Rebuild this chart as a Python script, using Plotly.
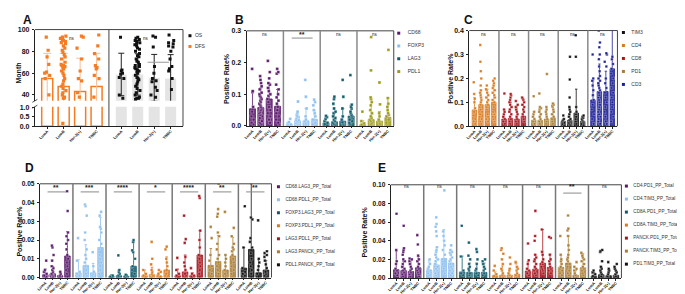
import plotly.graph_objects as go

FIG_W, FIG_H = 685, 294
FONT = "Liberation Sans"
CATS = ["LumA", "LumB", "Her-2(+)", "TNBC"]

PURPLE, LBLUE, TEAL, OLIVE = "#5A1A6C", "#8DC0F0", "#0F5B6B", "#9E9B1C"
ORANGE, RED, TAN, BLACK, NAVY = "#D97A1E", "#A8141B", "#AB7C33", "#111111", "#1D1F96"
A_ORANGE, A_ORANGE_LIGHT, A_GRAY = "#F57C22", "#F8BE93", "#E4E4E4"

# ---------------- Panel A (Month) ----------------
A_DFS_MEAN = [55.2, 47.7, 43.2, 47.7]
A_DFS_ERR = [23.0, 30.5, 30.5, 30.5]
A_DFS_PTS = [
    [93, 81, 75, 68, 61, 60, 58, 55, 40],
    [94, 93, 92, 91, 90, 89, 88, 87, 85, 83, 81, 79, 77, 75, 73, 70, 68, 67, 67, 66,
     65, 64, 62, 60, 58, 55, 53, 50, 48, 46, 44, 42, 40, 38, 37, 37, 0.15],
    [94, 93, 83, 73, 62, 55, 53, 42, 38],
    [95, 85, 78, 73, 67, 65, 64, 58, 55, 38],
]
A_OS_MEAN = [58.8, 58.8, 55.7, 55.0]
A_OS_ERR = [19.5, 19.0, 21.5, 22.0]
A_OS_PTS = [
    [93, 63, 62, 60, 59, 56, 55, 40, 37],
    [93, 92, 91, 90, 89, 88, 87, 86, 85, 83, 82, 80, 78, 76, 75, 73, 71, 70, 68, 67, 66,
     65, 64, 63, 62, 61, 60, 58, 56, 55, 54, 52, 50, 48, 46, 44, 42, 40, 38, 37, 37, 36],
    [94, 93, 84, 66, 60, 55, 53, 52, 47, 44, 40, 38],
    [95, 90, 88, 87, 85, 84, 80, 73, 66, 64, 62, 55, 45],
]
A_GROUPS = ["DFS", "OS"]
A_SIG = ["ns", "ns"]
A_BRACKET_VALUE = 70

# ---------------- Panel B ----------------
B_NAMES = ["CD68", "FOXP3", "LAG3", "PDL1"]
B_COLORS = [PURPLE, LBLUE, TEAL, OLIVE]
B_MEAN = [[0.054, 0.058, 0.085, 0.062],
          [0.006, 0.016, 0.016, 0.021],
          [0.010, 0.013, 0.015, 0.031],
          [0.004, 0.020, 0.015, 0.027]]
B_ERR = [[0.054, 0.062, 0.050, 0.053],
         [0.006, 0.026, 0.039, 0.027],
         [0.015, 0.027, 0.040, 0.034],
         [0.012, 0.065, 0.030, 0.061]]
B_PTS = [
    [[0.18, 0.11, 0.107, 0.06, 0.045, 0.03, 0.02, 0.01, 0.005],
     [0.157, 0.145, 0.135, 0.125, 0.115, 0.105, 0.1, 0.095, 0.09, 0.085, 0.08, 0.075, 0.07, 0.065,
      0.06, 0.055, 0.05, 0.045, 0.04, 0.035, 0.03, 0.025, 0.02, 0.015, 0.01, 0.005, 0.003],
     [0.205, 0.17, 0.15, 0.135, 0.13, 0.12, 0.11, 0.1, 0.095, 0.085, 0.075, 0.06, 0.05, 0.04, 0.03, 0.02, 0.01],
     [0.18, 0.17, 0.165, 0.13, 0.115, 0.1, 0.09, 0.08, 0.07, 0.06, 0.05, 0.04, 0.03, 0.02, 0.01, 0.005]],
    [[0.022, 0.012, 0.008, 0.005, 0.003, 0.001],
     [0.077, 0.045, 0.04, 0.035, 0.03, 0.028, 0.025, 0.02, 0.018, 0.015, 0.012, 0.01, 0.008, 0.005, 0.003],
     [0.145, 0.092, 0.055, 0.03, 0.02, 0.015, 0.01, 0.005],
     [0.083, 0.075, 0.065, 0.05, 0.04, 0.03, 0.02, 0.01, 0.005]],
    [[0.032, 0.028, 0.022, 0.015, 0.01, 0.006, 0.003],
     [0.092, 0.085, 0.07, 0.055, 0.045, 0.04, 0.03, 0.025, 0.02, 0.015, 0.01, 0.006, 0.003],
     [0.145, 0.092, 0.055, 0.03, 0.02, 0.012, 0.008, 0.004],
     [0.16, 0.067, 0.06, 0.055, 0.045, 0.04, 0.035, 0.03, 0.02, 0.015, 0.01, 0.005]],
    [[0.045, 0.015, 0.008, 0.004, 0.002],
     [0.28, 0.175, 0.09, 0.085, 0.075, 0.065, 0.05, 0.04, 0.03, 0.025, 0.02, 0.015, 0.01, 0.005, 0.003],
     [0.137, 0.068, 0.04, 0.03, 0.02, 0.015, 0.01, 0.005],
     [0.24, 0.088, 0.07, 0.06, 0.05, 0.04, 0.035, 0.03, 0.02, 0.01, 0.005]],
]
B_SIG = ["ns", "**", "ns", "ns"]
B_BRACKET = [False, True, False, False]

# ---------------- Panel C ----------------
C_NAMES = ["CD4", "CD8", "PD1", "TIM3", "CD3"]
C_COLORS = [ORANGE, RED, TAN, BLACK, NAVY]
C_MEAN = [[0.068, 0.090, 0.090, 0.100],
          [0.030, 0.032, 0.030, 0.042],
          [0.025, 0.025, 0.030, 0.035],
          [0.020, 0.025, 0.055, 0.020],
          [0.110, 0.145, 0.145, 0.240]]
C_ERR = [[0.052, 0.060, 0.065, 0.070],
         [0.040, 0.068, 0.055, 0.068],
         [0.035, 0.050, 0.050, 0.050],
         [0.010, 0.055, 0.100, 0.020],
         [0.080, 0.115, 0.085, 0.200]]
C_PTS = [
    [[0.184, 0.135, 0.115, 0.1, 0.075, 0.06, 0.045, 0.03, 0.02, 0.01],
     [0.34, 0.27, 0.23, 0.2, 0.17, 0.15, 0.14, 0.13, 0.12, 0.11, 0.1, 0.09, 0.08, 0.07, 0.06, 0.05, 0.04, 0.03, 0.02, 0.01],
     [0.17, 0.155, 0.15, 0.14, 0.13, 0.12, 0.11, 0.1, 0.09, 0.08, 0.07, 0.05, 0.04, 0.03, 0.02],
     [0.2, 0.19, 0.18, 0.17, 0.16, 0.15, 0.14, 0.13, 0.12, 0.11, 0.1, 0.08, 0.06, 0.05, 0.04, 0.03, 0.02]],
    [[0.137, 0.07, 0.06, 0.05, 0.04, 0.03, 0.02, 0.01],
     [0.135, 0.13, 0.12, 0.11, 0.1, 0.09, 0.08, 0.07, 0.06, 0.05, 0.04, 0.03, 0.02, 0.01],
     [0.105, 0.09, 0.08, 0.07, 0.06, 0.05, 0.04, 0.03, 0.02, 0.01],
     [0.12, 0.115, 0.11, 0.1, 0.09, 0.08, 0.07, 0.06, 0.05, 0.04, 0.03, 0.02]],
    [[0.125, 0.06, 0.05, 0.04, 0.03, 0.02, 0.01],
     [0.137, 0.08, 0.075, 0.07, 0.06, 0.05, 0.04, 0.03, 0.02, 0.01, 0.005],
     [0.218, 0.08, 0.07, 0.06, 0.05, 0.04, 0.03, 0.02, 0.01],
     [0.095, 0.09, 0.085, 0.08, 0.07, 0.06, 0.05, 0.04, 0.03, 0.02, 0.01]],
    [[0.045, 0.03, 0.025, 0.02, 0.015, 0.01, 0.005],
     [0.29, 0.195, 0.12, 0.08, 0.07, 0.06, 0.05, 0.04, 0.03, 0.025, 0.02, 0.015, 0.01, 0.005],
     [0.38, 0.29, 0.08, 0.06, 0.05, 0.04, 0.03, 0.02, 0.01],
     [0.045, 0.04, 0.035, 0.03, 0.025, 0.02, 0.015, 0.01, 0.005]],
    [[0.3, 0.2, 0.19, 0.17, 0.15, 0.13, 0.11, 0.09, 0.07, 0.05, 0.03, 0.01],
     [0.4, 0.35, 0.33, 0.3, 0.28, 0.25, 0.23, 0.21, 0.2, 0.19, 0.18, 0.17, 0.16, 0.15, 0.14, 0.13,
      0.12, 0.11, 0.1, 0.09, 0.08, 0.07, 0.06, 0.05, 0.04, 0.03, 0.02, 0.01],
     [0.305, 0.3, 0.27, 0.25, 0.2, 0.18, 0.16, 0.14, 0.12, 0.1, 0.08, 0.06, 0.04, 0.02, 0.01],
     [0.29, 0.28, 0.26, 0.24, 0.22, 0.2, 0.18, 0.16, 0.14, 0.12, 0.1, 0.08, 0.06, 0.04, 0.02]],
]
C_SIG = ["ns", "ns", "ns", "ns", "ns"]
C_LEGEND = ["TIM3", "CD4", "CD8", "PD1", "CD3"]
C_LEGEND_COLORS = [BLACK, ORANGE, RED, TAN, NAVY]

# ---------------- Panel D ----------------
D_NAMES = ["CD68.LAG3_PP_Total", "CD68.PDL1_PP_Total", "FOXP3.LAG3_PP_Total", "FOXP3.PDL1_PP_Total",
           "LAG3.PDL1_PP_Total", "LAG3.PANCK_PP_Total", "PDL1.PANCK_PP_Total"]
D_COLORS = [PURPLE, LBLUE, TEAL, ORANGE, RED, TAN, BLACK]
D_MEAN = [[0.0015, 0.002, 0.001, 0.0115],
          [0.0025, 0.0065, 0.0025, 0.016],
          [0.0005, 0.001, 0.0007, 0.006],
          [0.001, 0.0015, 0.0008, 0.004],
          [0.001, 0.003, 0.001, 0.012],
          [0.0065, 0.0085, 0.004, 0.0115],
          [0.005, 0.015, 0.0025, 0.004]]
D_ERR = [[0.003, 0.004, 0.002, 0.013],
         [0.007, 0.011, 0.005, 0.016],
         [0.001, 0.003, 0.001, 0.013],
         [0.003, 0.004, 0.002, 0.007],
         [0.0035, 0.009, 0.0015, 0.013],
         [0.009, 0.014, 0.008, 0.01],
         [0.011, 0.035, 0.007, 0.005]]
D_PTS = [
    [[0.009, 0.004, 0.003, 0.002, 0.001, 0.0005],
     [0.017, 0.016, 0.012, 0.009, 0.006, 0.005, 0.004, 0.003, 0.002, 0.0015, 0.001, 0.0005],
     [0.003, 0.002, 0.001, 0.0005],
     [0.046, 0.0355, 0.024, 0.022, 0.02, 0.018, 0.015, 0.012, 0.01, 0.008, 0.006, 0.004, 0.002]],
    [[0.021, 0.009, 0.003, 0.002, 0.001],
     [0.039, 0.038, 0.033, 0.024, 0.02, 0.015, 0.012, 0.01, 0.008, 0.006, 0.004, 0.002, 0.001],
     [0.0135, 0.006, 0.003, 0.002, 0.001],
     [0.035, 0.033, 0.027, 0.026, 0.024, 0.02, 0.018, 0.015, 0.012, 0.01, 0.008, 0.006, 0.004, 0.002]],
    [[0.001, 0.0005, 0.0003],
     [0.0118, 0.004, 0.003, 0.002, 0.001, 0.0005],
     [0.0015, 0.001, 0.0005],
     [0.02, 0.019, 0.0145, 0.0135, 0.01, 0.006, 0.004, 0.002]],
    [[0.004, 0.002, 0.001, 0.0005],
     [0.019, 0.01, 0.007, 0.004, 0.003, 0.002, 0.001, 0.0005],
     [0.004, 0.003, 0.002, 0.001, 0.0005],
     [0.0165, 0.015, 0.01, 0.008, 0.006, 0.004, 0.002, 0.001]],
    [[0.0105, 0.004, 0.002, 0.001, 0.0005],
     [0.033, 0.0205, 0.0185, 0.011, 0.008, 0.006, 0.004, 0.002, 0.001],
     [0.005, 0.002, 0.001, 0.0005],
     [0.0435, 0.0425, 0.025, 0.02, 0.016, 0.012, 0.01, 0.008, 0.006, 0.004, 0.002]],
    [[0.027, 0.021, 0.012, 0.009, 0.006, 0.004, 0.002],
     [0.05, 0.0365, 0.034, 0.0325, 0.024, 0.022, 0.018, 0.015, 0.012, 0.01, 0.008, 0.006, 0.004, 0.002],
     [0.035, 0.012, 0.01, 0.008, 0.006, 0.004, 0.002, 0.001],
     [0.0265, 0.022, 0.018, 0.016, 0.015, 0.014, 0.012, 0.01, 0.008, 0.006, 0.004, 0.002]],
    [[0.038, 0.016, 0.005, 0.003, 0.002, 0.001],
     [0.032, 0.031, 0.021, 0.019, 0.016, 0.013, 0.01, 0.008, 0.006, 0.004, 0.002],
     [0.0305, 0.01, 0.008, 0.006, 0.004, 0.002],
     [0.014, 0.013, 0.012, 0.011, 0.009, 0.007, 0.005, 0.003, 0.002, 0.001]],
]
D_SIG = ["**", "***", "****", "*", "****", "**", "**"]
D_BRACKET = [True] * 7

# ---------------- Panel E ----------------
E_NAMES = ["CD4.PD1_PP_Total", "CD4.TIM3_PP_Total", "CD8A.PD1_PP_Total", "CD8A.TIM3_PP_Total",
           "PANCK.PD1_PP_Total", "PANCK.TIM3_PP_Total", "PD1.TIM3_PP_Total"]
E_COLORS = [PURPLE, LBLUE, TEAL, ORANGE, RED, TAN, BLACK]
E_MEAN = [[0.009, 0.008, 0.007, 0.011],
          [0.008, 0.014, 0.021, 0.016],
          [0.0065, 0.006, 0.006, 0.006],
          [0.0025, 0.003, 0.003, 0.004],
          [0.0075, 0.0095, 0.016, 0.0115],
          [0.0115, 0.016, 0.003, 0.011],
          [0.002, 0.0035, 0.0025, 0.003]]
E_ERR = [[0.02, 0.01, 0.013, 0.012],
         [0.009, 0.019, 0.031, 0.014],
         [0.017, 0.01, 0.01, 0.01],
         [0.004, 0.01, 0.007, 0.008],
         [0.01, 0.015, 0.036, 0.014],
         [0.013, 0.029, 0.005, 0.015],
         [0.004, 0.008, 0.006, 0.005]]
E_PTS = [
    [[0.069, 0.03, 0.018, 0.015, 0.01, 0.008, 0.005, 0.003],
     [0.056, 0.032, 0.03, 0.028, 0.025, 0.02, 0.018, 0.015, 0.012, 0.01, 0.008, 0.006, 0.004, 0.002],
     [0.021, 0.02, 0.018, 0.015, 0.012, 0.01, 0.008, 0.006, 0.004, 0.002],
     [0.046, 0.036, 0.024, 0.02, 0.018, 0.015, 0.012, 0.01, 0.008, 0.006, 0.004, 0.002]],
    [[0.02, 0.019, 0.015, 0.012, 0.01, 0.008, 0.005, 0.003],
     [0.065, 0.058, 0.055, 0.05, 0.045, 0.033, 0.03, 0.028, 0.025, 0.022, 0.02, 0.018, 0.015, 0.012, 0.01, 0.008, 0.005, 0.003],
     [0.094, 0.05, 0.045, 0.04, 0.035, 0.03, 0.025, 0.02, 0.015, 0.01, 0.005],
     [0.035, 0.03, 0.028, 0.027, 0.025, 0.022, 0.02, 0.018, 0.015, 0.012, 0.01, 0.008, 0.005, 0.003]],
    [[0.056, 0.023, 0.008, 0.005, 0.003],
     [0.038, 0.024, 0.02, 0.015, 0.012, 0.01, 0.008, 0.005, 0.003, 0.001],
     [0.031, 0.028, 0.02, 0.015, 0.01, 0.008, 0.005, 0.003],
     [0.02, 0.018, 0.015, 0.012, 0.01, 0.008, 0.005, 0.003]],
    [[0.013, 0.008, 0.004, 0.002, 0.001],
     [0.032, 0.03, 0.026, 0.02, 0.015, 0.01, 0.008, 0.005, 0.003, 0.001],
     [0.022, 0.015, 0.01, 0.008, 0.005, 0.003, 0.001],
     [0.017, 0.016, 0.012, 0.01, 0.008, 0.005, 0.003, 0.001]],
    [[0.037, 0.019, 0.015, 0.01, 0.008, 0.005, 0.003],
     [0.072, 0.045, 0.04, 0.025, 0.022, 0.02, 0.018, 0.015, 0.012, 0.01, 0.008, 0.005, 0.003],
     [0.052, 0.028, 0.025, 0.02, 0.017, 0.015, 0.012, 0.01, 0.008, 0.005],
     [0.044, 0.043, 0.025, 0.02, 0.018, 0.015, 0.012, 0.01, 0.008, 0.005]],
    [[0.045, 0.025, 0.02, 0.018, 0.015, 0.012, 0.01, 0.008, 0.005, 0.003],
     [0.067, 0.053, 0.051, 0.045, 0.035, 0.03, 0.025, 0.022, 0.02, 0.018, 0.015, 0.012, 0.01, 0.008, 0.005, 0.003],
     [0.017, 0.012, 0.01, 0.008, 0.005, 0.003, 0.001],
     [0.027, 0.024, 0.022, 0.02, 0.018, 0.015, 0.012, 0.01, 0.008, 0.005, 0.003]],
    [[0.008, 0.006, 0.004, 0.002, 0.001],
     [0.03, 0.029, 0.028, 0.018, 0.012, 0.01, 0.008, 0.006, 0.004, 0.002, 0.001],
     [0.017, 0.01, 0.008, 0.006, 0.004, 0.002, 0.001],
     [0.015, 0.012, 0.01, 0.008, 0.006, 0.004, 0.002, 0.001]],
]
E_SIG = ["ns", "ns", "ns", "ns", "ns", "**", "ns"]
E_BRACKET = [False, False, False, False, False, True, False]

# =====================================================================
fig = go.Figure()
layout = {}
shapes = []
annotations = []


def px_x(x):
    return x / FIG_W


def px_y(y):
    return 1 - y / FIG_H


def xdom(a, b):
    return [max(0, px_x(a)), min(1, px_x(b))]


def ydom(top, bot):
    return [max(0, px_y(bot)), min(1, px_y(top))]


def key(ax):
    return ("xaxis" if ax[0] == "x" else "yaxis") + ax[1:]


def rgba(h, a):
    return "rgba(%d,%d,%d,%.2f)" % (int(h[1:3], 16), int(h[3:5], 16), int(h[5:7], 16), a)


TICKFONT = dict(family=FONT, size=7, color="#111", weight="bold")
XTICKFONT = dict(family=FONT, size=3.9, color="#111", weight="bold")


def y_axis(dom, rng, anchor, tickvals, fmt, fsize=7):
    return dict(domain=dom, range=rng, anchor=anchor, tickvals=tickvals, tickformat=fmt,
                showline=True, linecolor="#222", linewidth=1, ticks="outside", ticklen=2,
                tickwidth=0.8, tickcolor="#222", showgrid=False, zeroline=False,
                tickfont=dict(TICKFONT, size=fsize), fixedrange=True, ticklabelstandoff=1)


def x_axis(dom, rng, anchor, tickvals, ticktext):
    return dict(domain=dom, range=rng, anchor=anchor, tickvals=tickvals, ticktext=ticktext,
                tickangle=-45, showline=True, linecolor="#222", linewidth=1, ticks="outside",
                ticklen=1.5, tickwidth=0.8, tickcolor="#222", showgrid=False, zeroline=False,
                tickfont=XTICKFONT, fixedrange=True, ticklabelstandoff=-1)


def points_trace(xa, ya, xs, groups, color, size, bw, jitter, edge):
    bx, by = [], []
    for j, vals in enumerate(groups):
        bx += [xs[j]] * len(vals)
        by += vals
    return go.Box(x=bx, y=by, xaxis=xa, yaxis=ya, boxpoints="all", jitter=jitter, pointpos=0,
                  width=bw, fillcolor="rgba(0,0,0,0)", line=dict(color="rgba(0,0,0,0)", width=0),
                  marker=dict(color=color, size=size, symbol="square",
                              line=dict(color=edge, width=0.4 if edge else 0)),
                  showlegend=False, hoverinfo="skip", whiskerwidth=0)


def add_panel(xa, ya, xdomain, ydomain, yrange, ytickvals, yfmt, means, errs, pts, colors,
              W, off, bw, psize, ecap, sig, brackets, sig_y_px, br_y_px, ytop_px, ybot_px, divcolor, yfs=7):
    S = len(means)
    tickvals, ticktext = [], []
    for s in range(S):
        xs = [s * W + off + j for j in range(len(CATS))]
        tickvals += xs
        ticktext += CATS
        fig.add_trace(go.Bar(x=xs, y=means[s], width=bw, xaxis=xa, yaxis=ya,
                             marker=dict(color=rgba(colors[s], 0.85), line=dict(color=colors[s], width=0.8)),
                             error_y=dict(type="data", array=errs[s], color=colors[s], thickness=0.8, width=ecap),
                             showlegend=False, hoverinfo="skip"))
    for s in range(S):
        xs = [s * W + off + j for j in range(len(CATS))]
        fig.add_trace(points_trace(xa, ya, xs, pts[s], colors[s], psize, bw, 0.6, "rgba(255,255,255,0.7)"))
    layout[key(xa)] = x_axis(xdomain, [0, S * W], ya, tickvals, ticktext)
    layout[key(ya)] = y_axis(ydomain, yrange, xa, ytickvals, yfmt, yfs)
    shapes.append(dict(type="line", xref=xa + " domain", yref=ya + " domain", x0=0, x1=1, y0=1, y1=1,
                       line=dict(color="#444", width=1)))
    shapes.append(dict(type="line", xref=xa + " domain", yref=ya + " domain", x0=1, x1=1, y0=0, y1=1,
                       line=dict(color="#444", width=1)))
    for s in range(1, S):
        shapes.append(dict(type="line", xref=xa, yref=ya + " domain", x0=s * W, x1=s * W, y0=0, y1=1,
                           line=dict(color=divcolor, width=1.5)))
    hpx = ybot_px - ytop_px
    for s in range(S):
        big = sig[s] != "ns"
        annotations.append(dict(text=sig[s], x=s * W + W / 2, xref=xa, y=1 - (sig_y_px - ytop_px) / hpx,
                                yref=ya + " domain", showarrow=False, xanchor="center", yanchor="middle",
                                font=dict(family=FONT, size=7 if big else 4.5, color="#222",
                                          weight="bold" if big else "normal")))
        if brackets[s]:
            yb = 1 - (br_y_px - ytop_px) / hpx
            shapes.append(dict(type="line", xref=xa, yref=ya + " domain", x0=s * W + off + 0.3,
                               x1=s * W + off + 2.8, y0=yb, y1=yb, line=dict(color="#8a8a8a", width=1)))


def add_legend(xa, ya, labels, colors, mx, y0, sp, gap, fsize):
    n = len(labels)
    right = min(FIG_W, mx + 40)
    layout[key(xa)] = dict(domain=xdom(mx - 4, right), range=[-4, right - mx], visible=False,
                           fixedrange=True, anchor=ya)
    layout[key(ya)] = dict(domain=ydom(y0 - sp / 2, y0 + (n - 0.5) * sp), type="category",
                           categoryorder="array", categoryarray=labels,
                           range=[n - 0.5, -0.5], visible=False, fixedrange=True, anchor=xa)
    fig.add_trace(go.Scatter(x=[0] * n, y=labels, mode="markers", xaxis=xa, yaxis=ya,
                             marker=dict(color=colors, size=3, symbol="square"),
                             showlegend=False, hoverinfo="skip", cliponaxis=False))
    fig.add_trace(go.Scatter(x=[gap] * n, y=labels, text=labels, mode="text", xaxis=xa, yaxis=ya,
                             textposition="middle right",
                             textfont=dict(family=FONT, size=fsize, color="#333"),
                             showlegend=False, hoverinfo="skip", cliponaxis=False))


# ---------------- Panel A build ----------------
WA, OFFA, BWA = 4.5, 0.75, 0.67
xsA = [[g * WA + OFFA + j for j in range(len(CATS))] for g in range(2)]
for ya in ["y", "y2"]:
    fig.add_trace(go.Bar(x=xsA[0], y=A_DFS_MEAN, width=BWA, xaxis="x", yaxis=ya,
                         marker=dict(color="white", line=dict(color=A_ORANGE, width=1.5)),
                         error_y=dict(type="data", array=A_DFS_ERR, color=A_ORANGE_LIGHT, thickness=1, width=4,
                                      visible=(ya == "y")),
                         showlegend=False, hoverinfo="skip"))
    fig.add_trace(go.Bar(x=xsA[1], y=A_OS_MEAN, width=BWA, xaxis="x", yaxis=ya,
                         marker=dict(color=A_GRAY, line=dict(color=A_GRAY, width=0)),
                         error_y=dict(type="data", array=A_OS_ERR, color="#222", thickness=1, width=3,
                                      visible=(ya == "y")),
                         showlegend=False, hoverinfo="skip"))
    fig.add_trace(points_trace("x", ya, xsA[0], A_DFS_PTS, A_ORANGE, 3.2, BWA, 0.6, None))
    fig.add_trace(points_trace("x", ya, xsA[1], A_OS_PTS, "#111", 3.0, BWA, 0.6, None))

layout["xaxis"] = x_axis(xdom(23, 172), [0, 2 * WA], "y2", xsA[0] + xsA[1], CATS * 2)
layout["yaxis"] = y_axis(ydom(18, 91), [34.6, 100], "x", [40, 60, 80, 100], "d")
layout["yaxis2"] = y_axis(ydom(97, 117), [0, 1.053], "x", [0, 0.5, 1.0], ".1f")
shapes.append(dict(type="line", xref="x domain", yref="paper", x0=0, x1=1, y0=px_y(18), y1=px_y(18),
                   line=dict(color="#444", width=1)))
shapes.append(dict(type="line", xref="x domain", yref="paper", x0=1, x1=1, y0=px_y(117), y1=px_y(18),
                   line=dict(color="#444", width=1)))
shapes.append(dict(type="line", xref="x", yref="paper", x0=WA, x1=WA, y0=px_y(117), y1=px_y(18),
                   line=dict(color="#444", width=1)))
for yy in (91, 97):
    shapes.append(dict(type="line", xref="paper", yref="paper", x0=px_x(20.5), x1=px_x(25.5),
                       y0=px_y(yy + 1.5), y1=px_y(yy - 1.5), line=dict(color="#222", width=0.8)))
shapes.append(dict(type="line", xref="x", yref="y", x0=xsA[1][2] - 0.4, x1=xsA[1][3] - 0.1,
                   y0=A_BRACKET_VALUE, y1=A_BRACKET_VALUE, line=dict(color="#9a9a9a", width=1)))
for g in range(2):
    annotations.append(dict(text=A_SIG[g], x=g * WA + WA / 2, xref="x", y=px_y(22.5), yref="paper",
                            showarrow=False, font=dict(family=FONT, size=4.5, color="#222")))

# ---------------- Panels B-E ----------------
add_panel("x2", "y3", xdom(236, 384), ydom(19.3, 116.7), [0, 0.3], [0, 0.1, 0.2, 0.3], ".1f",
          B_MEAN, B_ERR, B_PTS, B_COLORS, 4.4, 0.7, 0.72, 2.8, 1.5, B_SIG, B_BRACKET, 22.7, 26.7, 19.3, 116.7, "#8a8a8a")
add_panel("x3", "y4", xdom(460, 609), ydom(19, 117), [0, 0.4], [0, 0.1, 0.2, 0.3, 0.4], ".1f",
          C_MEAN, C_ERR, C_PTS, C_COLORS, 4.6, 0.8, 0.7, 2.5, 1.2, C_SIG, [False] * 5, 22.7, 26.7, 19, 117, "#8a8a8a")
add_panel("x4", "y5", xdom(28, 261), ydom(176, 272), [0, 0.05], [0, 0.01, 0.02, 0.03, 0.04, 0.05], ".2f",
          D_MEAN, D_ERR, D_PTS, D_COLORS, 4.5, 0.75, 0.75, 2.6, 1.3, D_SIG, D_BRACKET, 179.3, 184.3, 176, 272, "#777", 6.6)
add_panel("x5", "y6", xdom(381, 613), ydom(177, 272.5), [0, 0.1], [0, 0.02, 0.04, 0.06, 0.08, 0.1], ".2f",
          E_MEAN, E_ERR, E_PTS, E_COLORS, 4.5, 0.75, 0.75, 2.6, 1.3, E_SIG, E_BRACKET, 178.3, 185.5, 177, 272.5, "#777", 6.6)

# ---------------- Legends ----------------
add_legend("x6", "y7", ["OS", "DFS"], ["#111", A_ORANGE], 179, 24.3, 11, 5, 5)
add_legend("x7", "y8", B_NAMES, B_COLORS, 389, 21.7, 13.1, 9, 5)
add_legend("x8", "y9", C_LEGEND, C_LEGEND_COLORS, 615, 21, 13.3, 8, 5)
add_legend("x9", "y10", D_NAMES, D_COLORS, 268, 179, 13.33, 7, 4.6)
add_legend("x10", "y11", E_NAMES, E_COLORS, 618, 178.3, 13.33, 7, 4.6)

# ---------------- Text labels ----------------
for letter, (lx, ly) in {"A": (16, 8), "B": (229, 8), "C": (459, 8), "D": (18, 160), "E": (372, 160)}.items():
    annotations.append(dict(text=letter, x=px_x(lx), y=px_y(ly), xref="paper", yref="paper", showarrow=False,
                            xanchor="center", yanchor="middle",
                            font=dict(family=FONT, size=12, color="#111", weight="bold")))
for txt, (tx, ty) in [("Month", (7, 62)), ("Positive Rate%", (216, 68)), ("Positive Rate%", (441, 68)),
                      ("Positive Rate%", (8, 224)), ("Positive Rate%", (355, 225))]:
    annotations.append(dict(text=txt, x=px_x(tx), y=px_y(ty), xref="paper", yref="paper", showarrow=False,
                            textangle=-90, xanchor="center", yanchor="middle",
                            font=dict(family=FONT, size=7, color="#111", weight="bold")))

layout.update(dict(width=FIG_W, height=FIG_H, margin=dict(l=0, r=0, t=0, b=0), autosize=False,
                   paper_bgcolor="white", plot_bgcolor="rgba(0,0,0,0)", barmode="overlay", boxmode="overlay",
                   shapes=shapes, annotations=annotations, showlegend=False, hovermode=False))
fig.update_layout(**layout)
fig.write_html("out.html", config={"displayModeBar": False})
